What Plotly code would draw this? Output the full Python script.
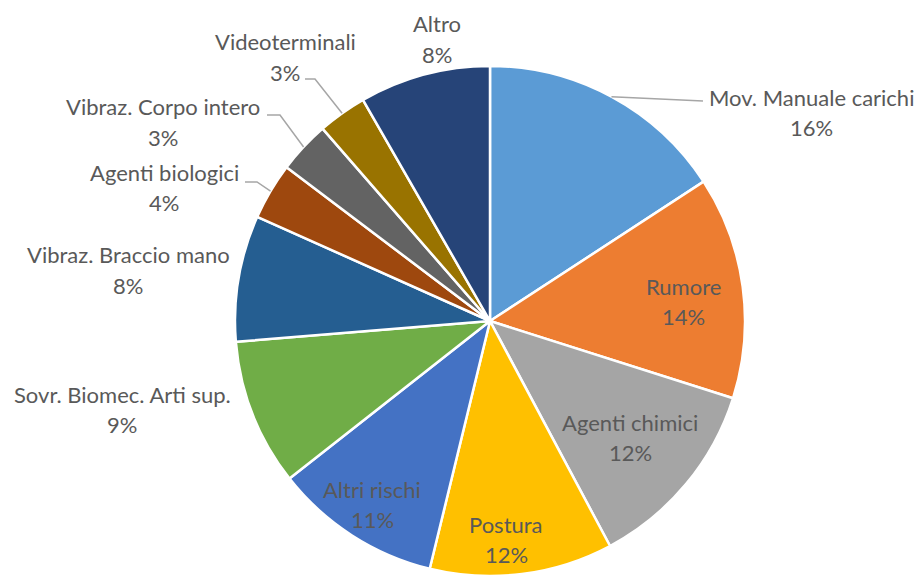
import math
import plotly.graph_objects as go

# ---- data ----
categories = ["Mov. Manuale carichi", "Rumore", "Agenti chimici", "Postura", "Altri rischi",
              "Sovr. Biomec. Arti sup.", "Vibraz. Braccio mano", "Agenti biologici",
              "Vibraz. Corpo intero", "Videoterminali", "Altro"]
values = [15.8, 14.1, 12.3, 11.6, 10.6, 9.3, 8.0, 3.6, 3.3, 3.1, 8.3]
colors = ["#5B9BD5", "#ED7D31", "#A5A5A5", "#FFC000", "#4472C4", "#70AD47",
          "#255E91", "#9E480E", "#636363", "#997300", "#264478"]

# ---- layout helpers (pixels) ----
W, H = 922, 576
CX, CY, R = 490, 321, 255
def px(x):
    return x / W
def py(y):
    return 1 - y / H

# label positions (name line centre in px)
label_pos = {
    "Mov. Manuale carichi": (811, 97),
    "Rumore": (683, 286),
    "Agenti chimici": (630, 422),
    "Postura": (506, 524),
    "Altri rischi": (372, 489),
    "Sovr. Biomec. Arti sup.": (122, 394),
    "Vibraz. Braccio mano": (128, 255),
    "Agenti biologici": (164, 172),
    "Vibraz. Corpo intero": (163, 107),
    "Videoterminali": (285, 42),
    "Altro": (437, 24),
}
line_gap = 30
# leader line elbows (px) for outside labels
leaders = {
    "Mov. Manuale carichi": [(703, 101)],
    "Videoterminali": [(315, 79), (305, 79)],
    "Vibraz. Corpo intero": [(280, 115), (267, 115)],
    "Agenti biologici": [(257, 182), (245, 182)],
}

fig = go.Figure(go.Pie(
    labels=categories, values=values, sort=False, direction="clockwise", rotation=0,
    marker=dict(colors=colors, line=dict(color="white", width=2.5)),
    textinfo="none", hoverinfo="label+percent", showlegend=False,
    domain=dict(x=[px(CX - R), px(CX + R)], y=[max(0, py(CY + R)), py(CY - R)]),
))

font = dict(family="Lato, 'Open Sans', sans-serif", size=22, color="#595959")
total = sum(values)
cum = 0
annotations = []
shapes = []
for name, v in zip(categories, values):
    mid = (cum + v / 2) / total * 2 * math.pi
    cum += v
    lx, ly = label_pos[name]
    annotations.append(dict(x=px(lx), y=py(ly), xref="paper", yref="paper", text=name,
                            showarrow=False, xanchor="center", yanchor="middle", font=font))
    annotations.append(dict(x=px(lx), y=py(ly + line_gap), xref="paper", yref="paper",
                            text=f"{round(v / total * 100)}%", showarrow=False,
                            xanchor="center", yanchor="middle", font=font))
    if name in leaders:
        sx = CX + R * math.sin(mid)
        sy = CY - R * math.cos(mid)
        pts = [(sx, sy)] + leaders[name]
        path = "M " + " L ".join(f"{px(a):.5f},{py(b):.5f}" for a, b in pts)
        shapes.append(dict(type="path", path=path, xref="paper", yref="paper",
                           line=dict(color="#A6A6A6", width=1.5)))

fig.update_layout(
    width=W, height=H, margin=dict(l=0, r=0, t=0, b=0),
    paper_bgcolor="white", plot_bgcolor="white",
    annotations=annotations, shapes=shapes,
)
fig.write_html("out.html", config={"displayModeBar": False},
               post_script="document.body.style.margin='0';")
